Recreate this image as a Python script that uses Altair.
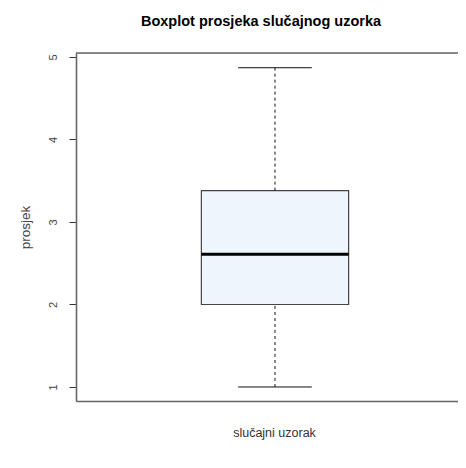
import altair as alt
import pandas as pd

# five-number summary
group = ["slučajni uzorak"]
lower_whisker = [1.0]
q1 = [2.0]
median = [2.61]
q3 = [3.38]
upper_whisker = [4.87]
y_ticks = [1, 2, 3, 4, 5]

df = pd.DataFrame({
    "g": group, "lo": lower_whisker, "q1": q1, "med": median,
    "q3": q3, "hi": upper_whisker,
    "c": [1.0], "bl": [0.815], "br": [1.185], "cl": [0.9075], "cr": [1.0925],
})

FONT = "Liberation Sans"
xs = alt.Scale(domain=[0.5, 1.4598], nice=False, zero=False)
ys = alt.Scale(domain=[0.83, 5.0485], nice=False, zero=False)

xax = alt.Axis(labels=False, ticks=False, domain=True, domainColor="#666666",
               domainWidth=1.6, grid=False, title="slučajni uzorak",
               titleFont=FONT, titleFontSize=12.5, titleFontWeight="normal",
               titleColor="#333333", titlePadding=25, titleX=198)
yax = alt.Axis(values=y_ticks, format="d", grid=False, domain=True,
               domainColor="#666666", domainWidth=1.6, tickColor="#333333",
               tickSize=7, tickWidth=1, labelAngle=-90, labelAlign="center",
               labelBaseline="bottom", labelFont=FONT, labelFontSize=11,
               labelColor="#444444", labelPadding=11, title="prosjek",
               titleFont=FONT, titleFontSize=13.5, titleFontWeight="normal",
               titleColor="#444444", titlePadding=15)

base = alt.Chart(df)

box = base.mark_bar(fill="#EEF5FD", stroke="#444444", strokeWidth=1.2).encode(
    x=alt.X("bl:Q", scale=xs, axis=xax), x2="br:Q",
    y=alt.Y("q1:Q", scale=ys, axis=yax), y2="q3:Q")

whisk_lo = base.mark_rule(color="#111111", strokeDash=[3, 3], strokeWidth=1).encode(
    x=alt.X("c:Q", scale=xs), y=alt.Y("lo:Q", scale=ys), y2="q1:Q")
whisk_hi = base.mark_rule(color="#111111", strokeDash=[3, 3], strokeWidth=1).encode(
    x=alt.X("c:Q", scale=xs), y=alt.Y("q3:Q", scale=ys), y2="hi:Q")
cap_lo = base.mark_rule(color="#111111", strokeWidth=1).encode(
    x=alt.X("cl:Q", scale=xs), x2="cr:Q", y=alt.Y("lo:Q", scale=ys))
cap_hi = base.mark_rule(color="#111111", strokeWidth=1).encode(
    x=alt.X("cl:Q", scale=xs), x2="cr:Q", y=alt.Y("hi:Q", scale=ys))
med = base.mark_rule(color="#000000", strokeWidth=3).encode(
    x=alt.X("bl:Q", scale=xs), x2="br:Q", y=alt.Y("med:Q", scale=ys))

top_line = base.mark_rule(color="#666666", strokeWidth=1.6).encode(
    x=alt.value(0), x2=alt.value(382), y=alt.value(0))

chart = alt.layer(top_line, box, whisk_lo, whisk_hi, cap_lo, cap_hi, med).properties(
    width=382, height=348,
    title=alt.TitleParams("Boxplot prosjeka slučajnog uzorka", font=FONT,
                          fontSize=14.5, fontWeight="bold", color="#000000",
                          anchor="middle", dx=-6, offset=12, baseline="alphabetic"),
    autosize=alt.AutoSizeParams(type="none"),
    padding={"left": 68, "top": 45, "right": 0, "bottom": 50},
).configure_view(stroke=None).configure(background="white")

chart.save("out.html", embed_options={"renderer": "svg", "actions": False})
